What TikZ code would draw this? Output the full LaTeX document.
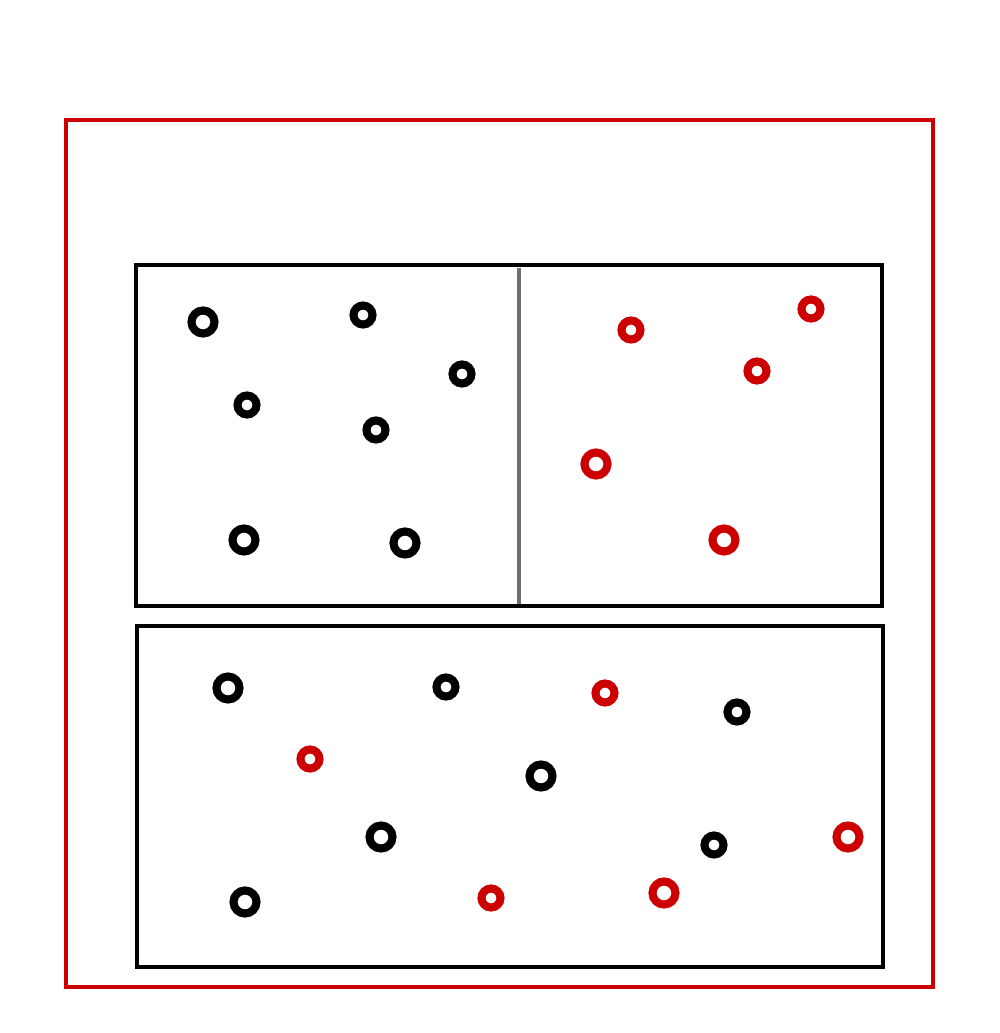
\documentclass[tikz,border=0pt]{standalone}
\usepackage{tikz}
\usetikzlibrary{positioning}
\usepackage{xcolor}
\definecolor{inkRed}{RGB}{204, 0, 0}
\definecolor{inkBlack}{RGB}{0, 0, 0}
\definecolor{dividerGray}{RGB}{112, 112, 112}

\begin{document}
\begin{tikzpicture}[
    x=1cm, y=-1cm,
    outer/.style={draw=inkRed, line width=0.95pt},
    panel/.style={draw=inkBlack, line width=1.25pt},
    divider/.style={draw=dividerGray, line width=1.1pt},
    blob/.style={circle, draw=inkBlack, line width=2.3pt, inner sep=0pt, minimum size=0.19cm},
    redblob/.style={blob, draw=inkRed},
    big/.style={minimum size=0.23cm},
]
\useasboundingbox (0,0) rectangle (10,10.33);
% frames
\draw[outer] (0.66,1.20) rectangle (9.33,9.87);
\draw[panel] (1.36,2.65) rectangle (8.82,6.06);
\draw[panel] (1.37,6.26) rectangle (8.83,9.67);
\draw[divider] (5.19,2.68) -- (5.19,6.04);
% upper left panel
\node[blob, big] (TL1) at (2.03,3.22) {};
\node[blob] (TL2) at (3.63,3.15) {};
\node[blob] (TL3) at (4.62,3.74) {};
\node[blob] (TL4) at (2.47,4.05) {};
\node[blob] (TL5) at (3.76,4.30) {};
\node[blob, big] (TL6) at (2.44,5.40) {};
\node[blob, big] (TL7) at (4.05,5.43) {};
% upper right panel
\node[redblob] (TR1) at (6.31,3.30) {};
\node[redblob] (TR2) at (8.11,3.09) {};
\node[redblob] (TR3) at (7.57,3.71) {};
\node[redblob, big] (TR4) at (5.96,4.64) {};
\node[redblob, big] (TR5) at (7.24,5.40) {};
% lower panel
\node[blob, big] (B1) at (2.28,6.88) {};
\node[blob] (B2) at (4.46,6.87) {};
\node[redblob] (B3) at (6.05,6.93) {};
\node[blob] (B4) at (7.37,7.12) {};
\node[redblob] (B5) at (3.10,7.59) {};
\node[blob, big] (B6) at (5.41,7.76) {};
\node[blob, big] (B7) at (3.81,8.37) {};
\node[blob] (B8) at (7.14,8.45) {};
\node[redblob, big] (B9) at (8.48,8.37) {};
\node[blob, big] (B10) at (2.45,9.02) {};
\node[redblob] (B11) at (4.91,8.98) {};
\node[redblob, big] (B12) at (6.64,8.93) {};
\end{tikzpicture}
\end{document}
